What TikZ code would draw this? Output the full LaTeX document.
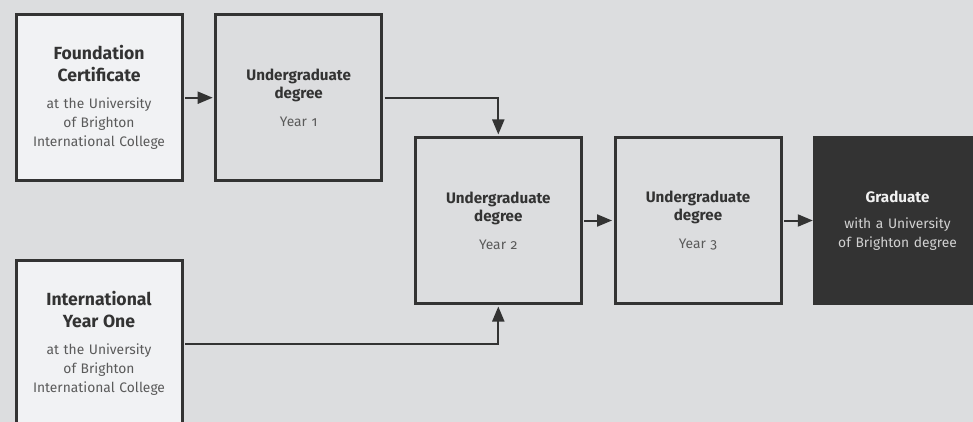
\documentclass[tikz,border=0pt]{standalone}
\usepackage{fontspec}
\setmainfont{Fira Sans}[Numbers=OldStyle]
\usetikzlibrary{arrows.meta}
\definecolor{bgc}{HTML}{DCDDDF}
\definecolor{lightc}{HTML}{F1F2F4}
\definecolor{ink}{HTML}{333333}
\definecolor{subc}{HTML}{5A5A5A}
\definecolor{darktitle}{HTML}{F2F2F2}
\definecolor{darksub}{HTML}{D2D2D2}
\newcommand\ttlA{\bfseries\color{ink}\fontsize{17.6}{22}\selectfont}
\newcommand\ttlB{\bfseries\color{ink}\fontsize{15.2}{18.3}\selectfont}
\tikzset{
  box/.style={draw=ink, line width=3pt, minimum width=166pt, minimum height=166pt,
    inner sep=0pt, text width=162pt, align=center, text=subc,
    font=\fontsize{13.8}{19.2}\selectfont},
  lightbox/.style={box, fill=lightc},
  midbox/.style={box, fill=bgc},
  darkbox/.style={fill=ink, minimum width=169pt, minimum height=169pt, inner sep=0pt,
    text width=162pt, align=center, text=darksub, font=\fontsize{13.8}{18.5}\selectfont},
  conn/.style={draw=ink, line width=2pt, -{Triangle[length=15pt,width=12pt]},
    shorten >=1.5pt, shorten <=1.5pt}
}
\begin{document}
\begin{tikzpicture}[x=1pt,y=-1pt]
\useasboundingbox[fill=bgc] (0,0) rectangle (973,422);
\clip (0,0) rectangle (973,422);
\node[lightbox] (fc) at (99,97.7)
  {{\ttlA Foundation\par Certificate\par}\vspace{7.5pt}at the University\par of Brighton\par International College};
\node[midbox] (y1) at (298.7,97.7)
  {{\ttlB Undergraduate\par degree\par}\vspace{8.5pt}Year 1};
\node[midbox] (y2) at (498.3,220.5)
  {{\ttlB Undergraduate\par degree\par}\vspace{8.5pt}Year 2};
\node[midbox] (y3) at (698,220.5)
  {{\ttlB Undergraduate\par degree\par}\vspace{8.5pt}Year 3};
\node[darkbox] (gr) at (897.5,220.5)
  {{\ttlB\color{darktitle}Graduate\par}\vspace{8pt}with a University\par of Brighton degree};
\node[lightbox] (iy) at (99,343.5)
  {{\ttlA International\par Year One\par}\vspace{7.5pt}at the University\par of Brighton\par International College};
\draw[conn] (fc) -- (y1);
\draw[conn] (y1.east) -| (y2.north);
\draw[conn] (iy.east) -| (y2.south);
\draw[conn] (y2) -- (y3);
\draw[conn, shorten >=0pt] (y3) -- (gr);
\end{tikzpicture}
\end{document}
